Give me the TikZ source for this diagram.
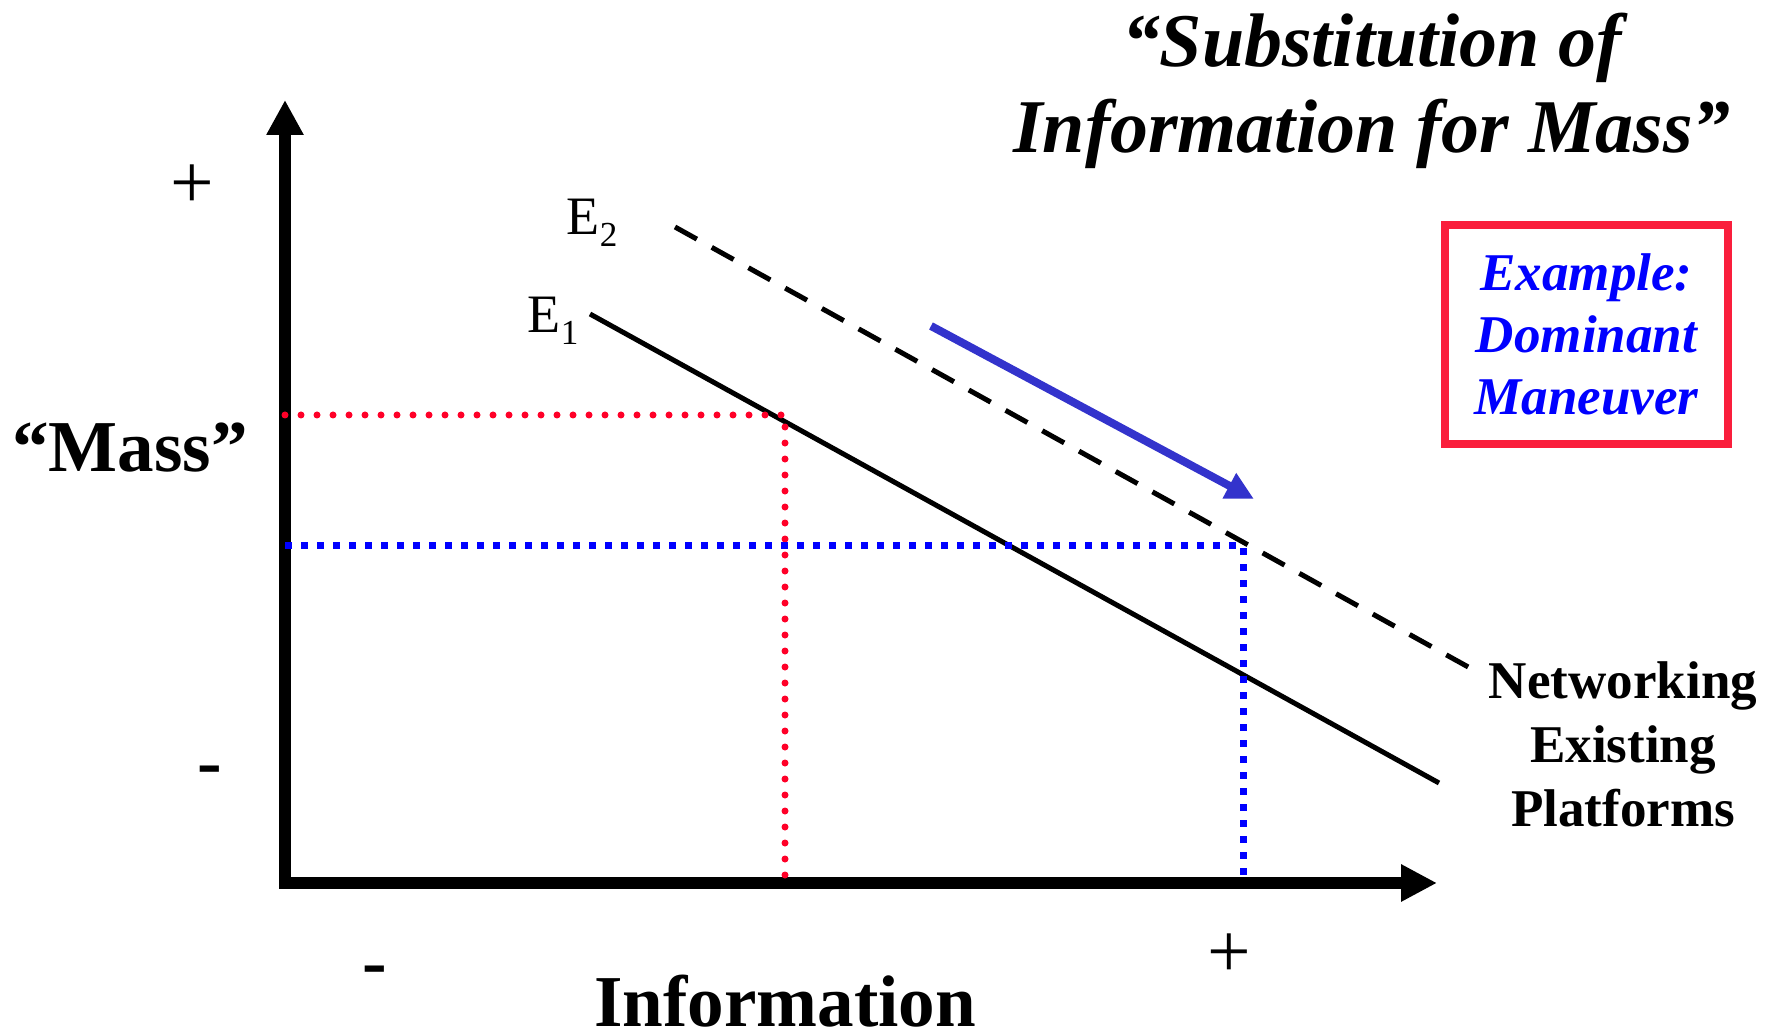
\documentclass[tikz,border=0pt]{standalone}
\usepackage{fontspec}
\setmainfont{Liberation Serif}
\usepackage{tikz}
\usetikzlibrary{arrows.meta, positioning}
\definecolor{boxred}{RGB}{250, 30, 60}
\definecolor{dotred}{RGB}{255, 0, 40}
\definecolor{dotblue}{RGB}{0, 0, 255}
\definecolor{shiftblue}{RGB}{51, 51, 204}
\newcommand{\esub}[1]{\raisebox{-0.22em}{\fontsize{10}{10}\selectfont #1}}

\begin{document}
\begin{tikzpicture}[
  axisline/.style={line width=0.12cm, {Triangle[length=0.35cm, width=0.35cm]}-{Triangle[length=0.36cm, width=0.35cm]}},
  curve/.style={line width=0.05cm},
  reddots/.style={dotred, line width=0.07cm, line cap=round, dash pattern=on 0pt off 0.16cm},
  bluedots/.style={dotblue, line width=0.07cm, dash pattern=on 0.07cm off 0.09cm},
  axlabel/.style={inner sep=0pt, anchor=base, font=\fontsize{20.8}{25}\selectfont\bfseries},
  tick/.style={inner sep=0pt, anchor=base, font=\fontsize{22}{26}\selectfont},
  elabel/.style={inner sep=0pt, anchor=base west, font=\fontsize{15.4}{18}\selectfont},
  smalltext/.style={align=center, font=\fontsize{15.1}{18.2}\selectfont\bfseries}
]
  \useasboundingbox (0,0) rectangle (17.8,10.36);

  % axes
  \coordinate (origin) at (2.85,1.53);
  \coordinate (ytip) at (2.85,9.36);
  \coordinate (xtip) at (14.37,1.53);
  \draw[axisline] (ytip) -- (origin) -- (xtip);

  % equal-effectiveness lines
  \coordinate (e1start) at (5.90,7.22);
  \coordinate (e1end) at (14.39,2.53);
  \coordinate (e2start) at (6.75,8.09);
  \coordinate (e2end) at (14.70,3.68);
  \draw[curve] (e1start) -- (e1end);
  \draw[curve, dash pattern=on 0.25cm off 0.17cm] (e2start) -- (e2end);

  % shift arrow
  \coordinate (shiftfrom) at (9.31,7.10);
  \coordinate (shiftto) at (12.54,5.37);
  \draw[shiftblue, line width=0.08cm, -{Triangle[length=0.28cm, width=0.27cm]}] (shiftfrom) -- (shiftto);

  % read-offs
  \coordinate (redcorner) at (7.85,6.21);
  \draw[reddots] (origin |- redcorner) -- (redcorner) -- (redcorner |- origin);
  \coordinate (bluecorner) at (12.43,4.90);
  \draw[bluedots] (origin |- bluecorner) -- (bluecorner) -- (bluecorner |- origin);

  % labels
  \node[elabel] (e2) at (5.66,8.01) {E\esub{2}};
  \node[elabel] (e1) at (5.27,7.03) {E\esub{1}};
  \node[axlabel] (mass) at (1.30,5.64) {“Mass”};
  \node[axlabel] (info) at (7.85,0.09) {Information};
  \node[tick] (yplus) at (1.92,8.27) {+};
  \node[tick, font=\fontsize{21}{25}\selectfont\bfseries] (yminus) at (2.10,2.49) {-};
  \node[tick] (xplus) at (12.29,0.58) {+};
  \node[tick, font=\fontsize{21}{25}\selectfont\bfseries] (xminus) at (3.75,0.49) {-};

  \node[inner sep=0pt, anchor=north, align=center, font=\fontsize{21.6}{24.5}\selectfont\bfseries\itshape] (title) at (13.72,10.24) {“Substitution of\\Information for Mass”};

  \node[draw=boxred, line width=0.08cm, minimum width=2.83cm, minimum height=2.19cm, align=center, text=dotblue, font=\fontsize{15.1}{17.6}\selectfont\bfseries\itshape] (example) at (15.865,7.015) {Example:\\Dominant\\Maneuver};

  \node[smalltext] (platforms) at (16.23,2.92) {Networking\\Existing\\Platforms};
\end{tikzpicture}
\end{document}
